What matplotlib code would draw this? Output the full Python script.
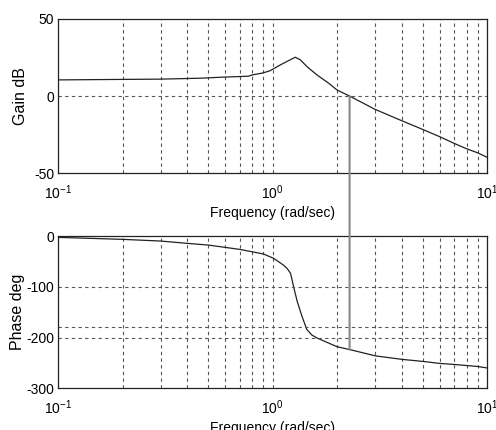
import numpy as np
import matplotlib.pyplot as plt
from matplotlib.patches import ConnectionPatch

plt.rcParams['font.family'] = ['Liberation Sans', 'DejaVu Sans']
plt.rcParams['axes.unicode_minus'] = False
plt.rcParams['mathtext.fontset'] = 'custom'
plt.rcParams['mathtext.rm'] = 'Liberation Sans'

# gain curve
gain_w = [0.1, 0.3, 0.46, 0.57, 0.77, 0.8, 0.9, 0.973, 1.084, 1.185, 1.273, 1.344,
          1.443, 1.607, 1.82, 1.99, 2.28, 3.0, 4.0, 5.0, 6.0, 7.0, 8.0, 9.0, 10.0]
gain_db = [10.5, 11.0, 11.6, 12.2, 12.9, 13.7, 15.0, 16.5, 20.2, 23.0, 25.2, 23.5,
           19.1, 13.7, 8.4, 4.0, 0.0, -8.6, -16.0, -21.6, -26.3, -30.6, -34.1, -36.7, -39.7]

# phase curve
phase_w = [0.1, 0.143, 0.2, 0.3, 0.4, 0.5, 0.6, 0.7, 0.8, 0.906, 1.01, 1.12, 1.165,
           1.21, 1.23, 1.25, 1.30, 1.37, 1.44, 1.52, 1.61, 1.99, 2.3, 3.0, 4.0, 5.0,
           6.0, 7.0, 9.0, 10.0]
phase_deg = [-2.6, -4.6, -6.5, -9.8, -14.4, -17.7, -22.3, -26.2, -30.9, -35.4, -43.9,
             -57.1, -63.6, -73.4, -86.6, -99.8, -129, -159, -184, -195, -201, -218,
             -224, -236, -243, -247, -251, -253, -257, -260]

# crossover marker
wc = 2.28
wc_phase = -224

fig = plt.figure(figsize=(4.96, 4.30), dpi=100)
ax1 = fig.add_axes([0.1175, 0.597, 0.865, 0.359])
ax2 = fig.add_axes([0.1175, 0.097, 0.865, 0.354])

gridc = '#555555'
for ax in (ax1, ax2):
    ax.set_xscale('log')
    ax.set_xlim(0.1, 10)
    ax.set_xticks([0.1, 1, 10])
    ax.set_xticklabels([r'$\mathrm{10^{-1}}$', r'$\mathrm{10^{0}}$', r'$\mathrm{10^{1}}$'])
    ax.xaxis.set_minor_formatter(plt.NullFormatter())
    ax.grid(True, which='both', axis='x', linestyle=(0, (3, 3)), color=gridc, linewidth=0.8)
    ax.tick_params(which='both', direction='in', length=0, labelsize=10)
    ax.tick_params(axis='x', pad=7)
    ax.tick_params(axis='y', pad=3)
    for s in ax.spines.values():
        s.set_linewidth(0.9)
        s.set_color('#222222')
    ax.set_xlabel('Frequency (rad/sec)', fontsize=10, labelpad=3)

ax1.plot(gain_w, gain_db, color='#222222', linewidth=0.9)
ax1.set_ylim(-50, 50)
ax1.set_yticks([-50, 0, 50])
ax1.axhline(0, linestyle=(0, (3, 3)), color=gridc, linewidth=0.8)
ax1.set_ylabel('Gain dB', fontsize=11.5, labelpad=4)

ax2.plot(phase_w, phase_deg, color='#222222', linewidth=0.9)
ax2.set_ylim(-300, 0)
ax2.set_yticks([-300, -200, -100, 0])
for yv in (-100, -180, -200):
    ax2.axhline(yv, linestyle=(0, (3, 3)), color=gridc, linewidth=0.8)
ax2.set_ylabel('Phase deg', fontsize=11.5, labelpad=1)

con = ConnectionPatch(xyA=(wc, 0), coordsA=ax1.transData,
                      xyB=(wc, wc_phase), coordsB=ax2.transData,
                      color='#888888', linewidth=1.5)
fig.add_artist(con)

fig.savefig('out.png', dpi=100)
